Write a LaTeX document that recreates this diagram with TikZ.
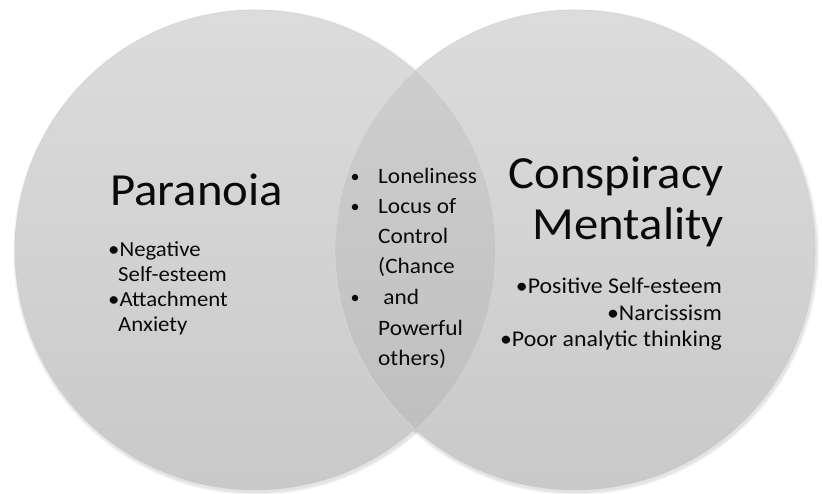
\documentclass[tikz,border=0pt]{standalone}
\usepackage{fontspec}
\setmainfont{Carlito}[FakeStretch=1.06]
\definecolor{circtop}{HTML}{DCDCDC}
\definecolor{circbot}{HTML}{C9C9C9}
\definecolor{txt}{HTML}{0A0A0A}
\tikzset{
  disc/.style={top color=circtop, bottom color=circbot},
  rim/.style={draw=black!22, line width=0.6pt},
  title/.style={inner sep=0pt, text=txt, font=\fontsize{46}{46}\selectfont},
  litem/.style={inner sep=0pt, text=txt, font=\fontsize{21.5}{21.5}\selectfont},
  item/.style={inner sep=0pt, text=txt, font=\fontsize{22}{22}\selectfont},
  ritem/.style={inner sep=0pt, text=txt, font=\fontsize{22.5}{22.5}\selectfont},
  dot/.style={circle, fill=txt, inner sep=0pt, minimum size=6.5pt}
}
\begin{document}
\begin{tikzpicture}[x=1pt,y=-1pt]
\useasboundingbox (0,0) rectangle (822,494);
\fill[white] (0,0) rectangle (822,494);
% soft shadows
\foreach \k in {6,4,2} {
  \fill[black, opacity=0.035] (256,252) circle ({240+\k/2});
  \fill[black, opacity=0.035] (576,252) circle ({240+\k/2});
}
% circles
\shade[disc] (255,250) circle (240);
\shade[disc] (575,250) circle (240);
% overlap (lens)
\begin{scope}
  \clip (255,250) circle (240);
  \fill[black, opacity=0.055] (575,250) circle (240);
  \draw[white, opacity=0.35, line width=0.8pt] (575,250) circle (240);
\end{scope}
\draw[rim, opacity=0.5] (255,250) circle (240);
\draw[rim, opacity=0.5] (575,250) circle (240);

% left circle text
\node[title, anchor=base west] (par) at (110,206) {Paranoia};
\node[litem, anchor=base west] (l1) at (108,257) {•Negative};
\node[litem, anchor=base west] (l2) at (118,282) {Self-esteem};
\node[litem, anchor=base west] (l3) at (108,307) {•Attachment};
\node[litem, anchor=base west] (l4) at (118,332) {Anxiety};

% middle text
\node[item, anchor=base west] (m1) at (378,184) {Loneliness};
\node[item, anchor=base west] (m2) at (378,214) {Locus of};
\node[item, anchor=base west] (m3) at (378,244) {Control};
\node[item, anchor=base west] (m4) at (378,274) {(Chance};
\node[item, anchor=base west] (m5) at (378,305) {\ and};
\node[item, anchor=base west] (m6) at (378,335) {Powerful};
\node[item, anchor=base west] (m7) at (378,365) {others)};
\node[dot] (b1) at (355,177) {};
\node[dot] (b2) at (355,207) {};
\node[dot] (b5) at (355,298) {};

% right circle text
\node[title, anchor=base east] (con) at (724,189) {Conspiracy};
\node[title, anchor=base east] (men) at (724,240) {Mentality};
\node[ritem, anchor=base east] (r1) at (722,294) {•Positive Self-esteem};
\node[ritem, anchor=base east] (r2) at (722,320) {•Narcissism};
\node[ritem, anchor=base east] (r3) at (722,347) {•Poor analytic thinking};
\end{tikzpicture}
\end{document}
